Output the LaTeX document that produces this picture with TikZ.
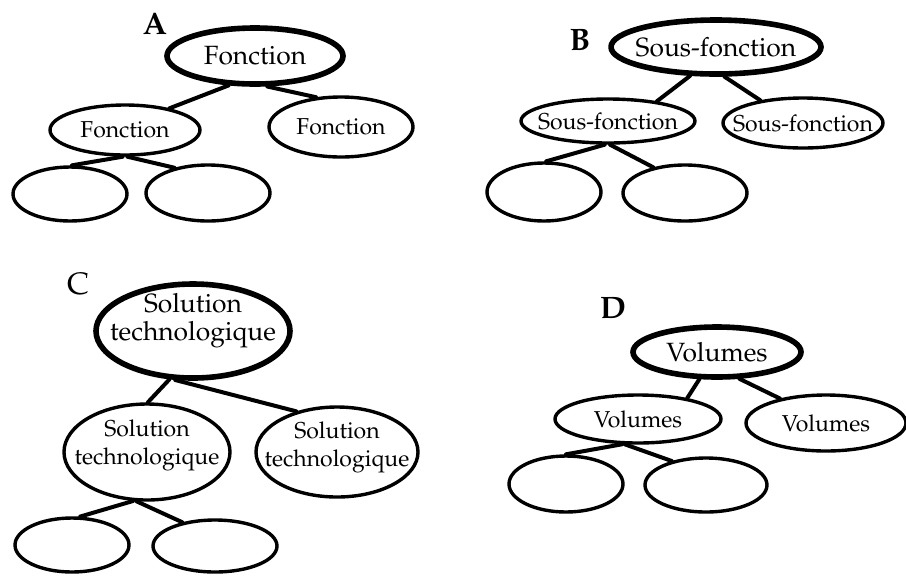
\documentclass[tikz,border=0pt]{standalone}
\usepackage[T1]{fontenc}
\usepackage{mathpazo}
\usetikzlibrary{shapes.geometric}
\newcommand{\monte}[2]{\raisebox{#1}[\height][\depth]{\begin{tabular}{@{}c@{}}#2\end{tabular}}}
\begin{document}
\begin{tikzpicture}[line cap=round,line join=round,x=0.5pt,y=-0.5pt,
	tete/.style={ellipse,draw,line width=2.8pt,inner xsep=-12pt,inner ysep=-2pt,align=center,font=\fontsize{13.2}{14}\selectfont},
	fils/.style={ellipse,draw,line width=1.7pt,inner xsep=-12pt,inner ysep=-2pt,align=center,font=\fontsize{11.5}{14}\selectfont},
	lien/.style={line width=2pt},
	lettre/.style={font=\fontsize{15.5}{16}\selectfont\bfseries}]
	\useasboundingbox (0,0) rectangle (906,575);
	% A
	\node[lettre] (labA) at (155,24) {A};
	\node[tete,minimum width=88pt,minimum height=28pt] (fA) at (255,56) {Fonction};
	\node[fils,minimum width=75pt,minimum height=25pt] (fA1) at (125,130) {Fonction};
	\node[fils,minimum width=72pt,minimum height=30pt] (fA2) at (341,127) {Fonction};
	\node[fils,minimum width=57pt,minimum height=27pt] (fA11) at (70,194) {};
	\node[fils,minimum width=62pt,minimum height=28pt] (fA12) at (208,193) {};
	\draw[lien] (fA.228) -- (fA1.26);
	\draw[lien] (fA.-68) -- (fA2.130);
	\draw[lien] (fA1.-95) -- (fA11.86);
	\draw[lien] (fA1.-85) -- (fA12.143);
	% B
	\node[lettre] (labB) at (580,40) {B};
	\node[tete,minimum width=105pt,minimum height=27pt] (sB) at (716,47) {Sous-fonction};
	\node[fils,minimum width=87pt,minimum height=22pt] (sB1) at (608,121) {Sous-fonction};
	\node[fils,minimum width=80pt,minimum height=25pt] (sB2) at (803,123) {Sous-fonction};
	\node[fils,minimum width=57pt,minimum height=29pt] (sB11) at (544,192) {};
	\node[fils,minimum width=62pt,minimum height=28pt] (sB12) at (685,193) {};
	\draw[lien] (sB.228) -- (sB1.22);
	\draw[lien] (sB.-74) -- (sB2.152);
	\draw[lien] (sB1.-98) -- (sB11.86);
	\draw[lien] (sB1.-85) -- (sB12.141);
	% C
	\node[font=\fontsize{15.5}{16}\selectfont] (labC) at (78,284) {C};
	\node[tete,minimum width=97pt,minimum height=47pt] (tC) at (193,331) {\monte{5pt}{Solution\\technologique}};
	\node[fils,minimum width=83pt,minimum height=48pt] (tC1) at (147,452) {\monte{3.5pt}{Solution\\technologique}};
	\node[fils,minimum width=81pt,minimum height=45pt] (tC2) at (337,452) {\monte{2.5pt}{Solution\\technologique}};
	\node[fils,minimum width=57pt,minimum height=27pt] (tC11) at (72,545) {};
	\node[fils,minimum width=62pt,minimum height=26pt] (tC12) at (215,546) {};
	\draw[lien] (tC.244) -- (tC1.89);
	\draw[lien] (tC.250) -- (tC2.135);
	\draw[lien] (tC1.254) -- (tC11.74);
	\draw[lien] (tC1.258) -- (tC12.144);
	% D
	\node[lettre] (labD) at (613,308) {D};
	\node[tete,minimum width=84pt,minimum height=25pt] (vD) at (717,352) {Volumes};
	\node[fils,minimum width=83pt,minimum height=24pt] (vD1) at (638,419) {Volumes};
	\node[fils,minimum width=80pt,minimum height=28pt] (vD2) at (826,423) {Volumes};
	\node[fils,minimum width=57pt,minimum height=28pt] (vD11) at (566,484) {};
	\node[fils,minimum width=61pt,minimum height=27pt] (vD12) at (706,485) {};
	\draw[lien] (vD.237) -- (vD1.23);
	\draw[lien] (vD.-50) -- (vD2.152);
	\draw[lien] (vD1.238) -- (vD11.90);
	\draw[lien] (vD1.243) -- (vD12.145);
\end{tikzpicture}
\end{document}
